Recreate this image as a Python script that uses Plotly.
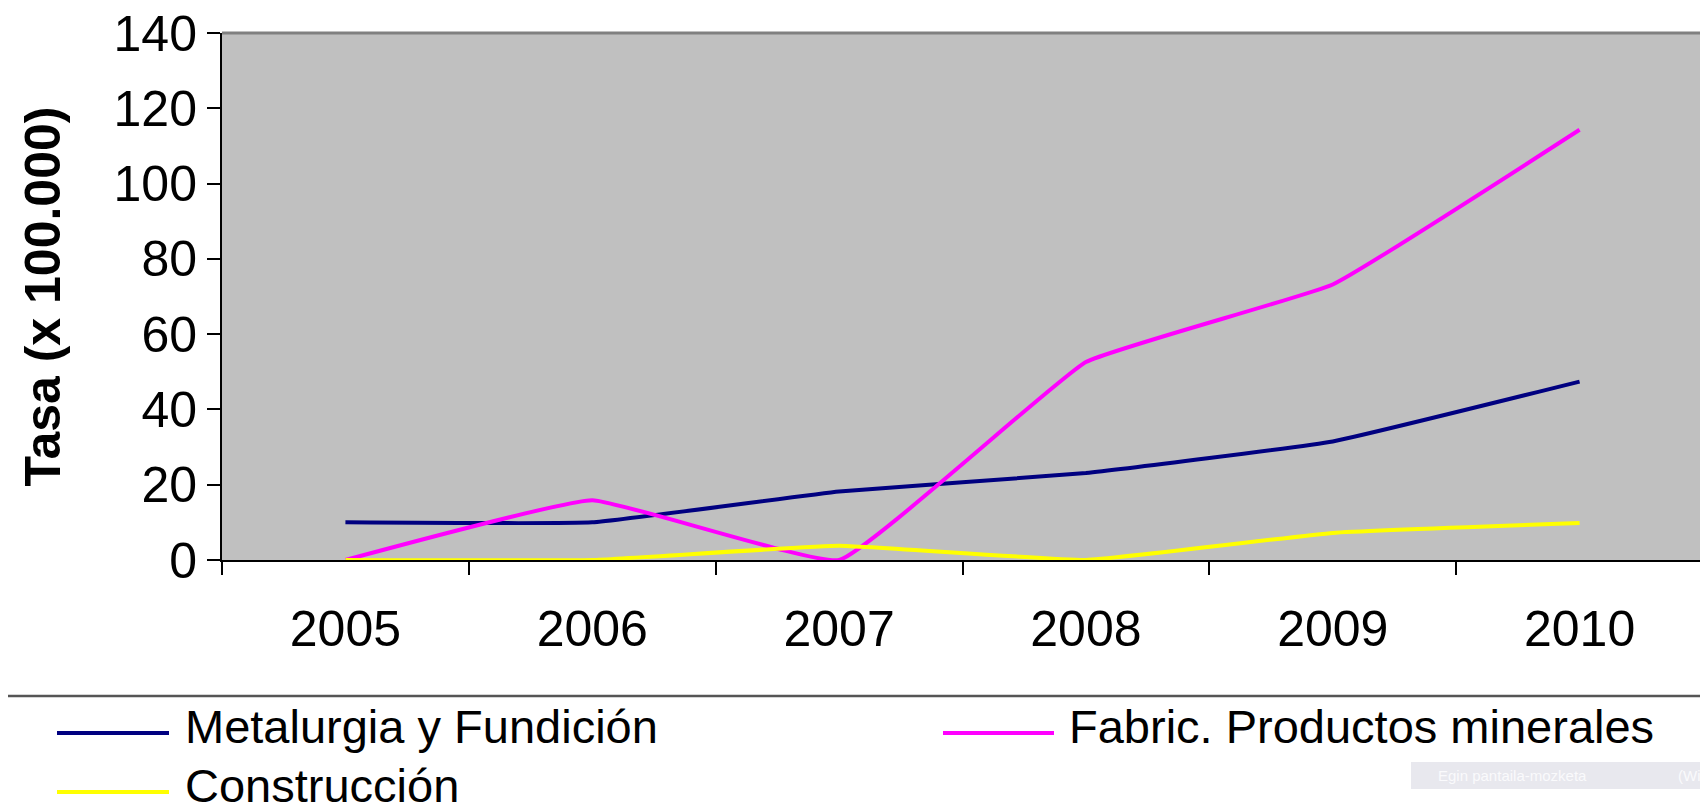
import plotly.graph_objects as go

years = ["2005", "2006", "2007", "2008", "2009", "2010"]
metalurgia = [10, 10, 18.2, 23.1, 31.5, 47.4]
fabric_minerales = [0, 15.9, 0, 52.6, 73.2, 114.3]
construccion = [0, 0, 3.8, 0, 7.2, 9.8]

series_names = ["Metalurgia y Fundición", "Fabric. Productos minerales", "Construcción"]
series_values = [metalurgia, fabric_minerales, construccion]
series_colors = ["#000080", "#FF00FF", "#FFFF00"]

# page is 1708x809; the html body adds an 8px margin, so the figure itself is smaller
OFF = 8
W, H = 1708 - OFF, 809 - OFF
# plot area in page pixels: left 222, right 1703, top 33, bottom 560
ML, MR, MT, MB = 222 - OFF, 1708 - 1703, 33 - OFF, 809 - 560
PW = W - ML - MR
PH = H - MT - MB
FONT = "Arial, Liberation Sans, sans-serif"


def px(x):
    return (x - OFF - ML) / PW


def py(y):
    return (H + OFF - MB - y) / PH


fig = go.Figure()
for name, vals, col in zip(series_names, series_values, series_colors):
    fig.add_trace(go.Scatter(
        x=years, y=vals, mode="lines", name=name,
        line=dict(color=col, width=4, shape="spline", smoothing=0.3),
        showlegend=False,
    ))

shapes = []
# plot frame (gray border, top and right)
shapes.append(dict(type="line", xref="paper", yref="paper", x0=0, x1=1, y0=1, y1=1,
                   line=dict(color="#808080", width=3)))
shapes.append(dict(type="line", xref="paper", yref="paper", x0=1, x1=1, y0=0, y1=1,
                   line=dict(color="#808080", width=3)))
# legend separator
shapes.append(dict(type="line", xref="paper", yref="paper", x0=px(OFF), x1=px(1708), y0=py(696), y1=py(696),
                   line=dict(color="#555555", width=2.5)))

legend_pos = [(57, 169, 183, 733, 726), (943, 1054, 1067, 733, 726), (57, 169, 183, 792, 785)]
annotations = []
for (x0, x1, xt, yl, yt), name, col in zip(legend_pos, series_names, series_colors):
    shapes.append(dict(type="line", xref="paper", yref="paper", x0=px(x0), x1=px(x1), y0=py(yl), y1=py(yl),
                       line=dict(color=col, width=4)))
    annotations.append(dict(xref="paper", yref="paper", x=px(xt), y=py(yt), text=name, showarrow=False,
                            xanchor="left", yanchor="middle", font=dict(family=FONT, size=47, color="black")))

# screenshot tool overlay
shapes.append(dict(type="rect", xref="paper", yref="paper", x0=px(1411), x1=px(1712), y0=py(762), y1=py(789),
                   fillcolor="#E8E8EE", line=dict(width=0), layer="above"))
annotations.append(dict(xref="paper", yref="paper", x=px(1436), y=py(775.5), text="Egin pantaila-mozketa",
                        showarrow=False, xanchor="left", yanchor="middle",
                        font=dict(family=FONT, size=15, color="#FAFAFC")))
annotations.append(dict(xref="paper", yref="paper", x=px(1676), y=py(775.5), text="(Win",
                        showarrow=False, xanchor="left", yanchor="middle",
                        font=dict(family=FONT, size=15, color="#FAFAFC")))

fig.update_layout(
    width=W, height=H,
    margin=dict(l=ML, r=MR, t=MT, b=MB, pad=0, autoexpand=False),
    paper_bgcolor="white",
    plot_bgcolor="#C0C0C0",
    font=dict(family=FONT, color="black"),
    shapes=shapes,
    annotations=annotations,
    showlegend=False,
)
fig.update_xaxes(
    type="category", range=[-0.5, 5.5], tickson="boundaries", automargin=False,
    showline=True, linecolor="black", linewidth=2,
    ticks="outside", ticklen=13, tickwidth=2, tickcolor="black",
    showgrid=False, zeroline=False,
    tickfont=dict(family=FONT, size=50, color="black"),
    ticklabelstandoff=24, ticklabeloverflow="allow",
)
fig.update_yaxes(
    range=[0, 140], dtick=20, automargin=False,
    showline=True, linecolor="black", linewidth=2,
    ticks="outside", ticklen=13, tickwidth=2, tickcolor="black",
    showgrid=False, zeroline=False,
    tickfont=dict(family=FONT, size=50, color="black"),
    ticklabeloverflow="allow",
    title=dict(text="<b>Tasa (x 100.000)</b>", font=dict(family=FONT, size=50, color="black"), standoff=37),
)

fig.write_html("out.html")
